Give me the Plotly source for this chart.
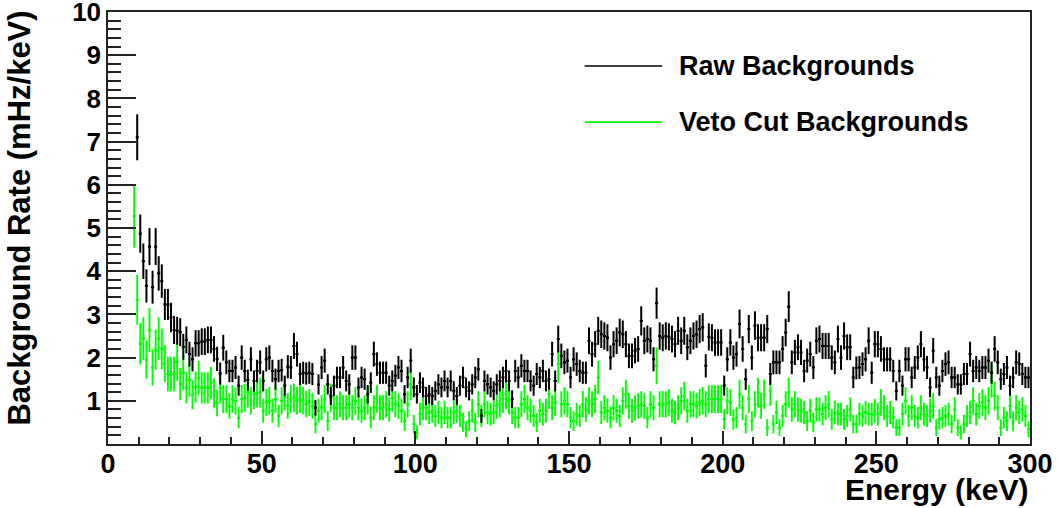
import plotly.graph_objects as go

# Energy binning (1 keV bins); first bin centre of each spectrum
bin_width = 1.0
raw_first_center = 9.5
veto_first_center = 8.5

# Raw background rate per bin (mHz/keV), 9.5 .. 299.5 keV
raw_rate = [
    7.10, 4.87, 4.23, 3.66, 4.57, 3.63, 4.57, 3.95, 3.77, 3.23,
    3.23, 2.93, 2.64, 2.62, 2.59, 2.25, 2.41, 2.08, 1.96, 2.33,
    2.33, 2.37, 2.37, 2.41, 2.41, 2.20, 1.97, 1.63, 2.23,
    1.89, 1.69, 1.69, 1.77, 1.35, 2.00, 1.69, 1.48, 1.96, 1.46,
    1.69, 1.89, 1.46, 1.96, 2.00, 1.69, 1.50, 1.69, 1.71, 1.35,
    1.79, 1.77, 2.27, 2.08, 1.62, 1.65, 1.63, 1.65, 1.62, 0.84,
    1.38, 1.77, 1.93, 1.38, 1.11, 1.35, 1.54, 1.54, 1.77, 1.46,
    1.38, 2.00, 2.00, 1.31, 1.54, 1.50, 1.15, 1.42, 2.08, 1.85,
    1.65,
    1.65, 1.65, 1.35, 1.46, 1.58, 1.77, 1.69, 1.15, 1.54, 1.93,
    1.31, 1.15, 1.42, 1.31, 1.11, 1.15, 1.11, 1.23, 1.38, 1.31,
    1.46, 1.31, 1.46, 1.23, 1.11, 1.35, 1.54, 1.31, 1.23, 1.38,
    1.54, 1.73, 0.65, 1.46, 1.38, 1.31, 1.23, 1.38, 1.46, 1.54,
    1.69, 1.46, 1.04, 1.69, 1.54, 1.81, 1.69, 1.69, 1.46, 1.35,
    1.62, 1.54, 1.69, 1.46, 1.50, 2.08, 1.46, 2.43, 2.04, 1.89,
    1.93, 1.54, 1.96, 1.85, 1.69, 1.65, 1.65, 2.39, 2.08, 2.31,
    2.62, 2.54, 2.50, 2.46, 2.00, 2.31, 2.39, 2.58, 2.54, 2.31,
    2.04, 2.04, 2.16, 2.20, 2.85, 2.39, 2.43, 2.39, 1.96, 3.26,
    2.50, 2.46, 2.50, 2.48, 2.43, 2.31, 2.62, 2.39, 2.62, 2.24,
    2.39, 2.50, 2.54, 2.66,
    2.70, 1.81, 2.48, 2.46, 2.35, 2.35, 2.35, 1.35, 1.96, 2.35,
    2.00, 2.08, 2.78, 2.20, 1.50, 2.66, 2.00, 2.74, 2.46, 2.46,
    2.46, 2.66, 1.62, 1.89, 1.89, 1.89, 2.20, 2.58, 3.18, 1.89,
    2.12, 2.24, 2.12, 1.69, 1.93, 2.08, 1.77, 2.39, 2.43, 2.27,
    2.27, 2.27, 2.00, 1.89, 2.43, 2.00, 2.50, 2.24, 2.24, 1.54,
    1.76, 1.77, 1.85, 1.96, 2.39, 1.65, 2.31, 2.31, 2.20, 1.96,
    1.96, 1.96, 1.69, 1.23, 1.69, 1.35, 1.96, 1.96, 1.54, 1.77,
    2.00, 2.31, 1.96, 1.77, 1.31, 2.16, 1.54, 1.35, 1.69, 1.85,
    1.89, 1.54, 1.54, 1.38, 1.38, 1.62, 1.62, 2.08, 1.69, 1.77,
    1.69, 1.77, 1.77, 1.93, 1.65, 2.20, 1.89, 1.50, 1.62, 1.77,
    1.35, 1.54, 1.89, 1.85, 1.62, 1.54, 1.54,
]

# Background rate after the veto cut (mHz/keV), 8.5 .. 299.5 keV
veto_rate = [
    5.27, 3.34, 2.32, 2.44, 1.95, 2.64, 1.77, 2.18, 2.44, 2.20,
    1.86, 1.62, 1.62, 1.62, 1.90, 1.39, 1.65, 1.30, 1.48, 1.14,
    1.32, 1.53, 1.30, 1.30, 1.30, 1.41, 1.18, 0.95, 1.30, 1.04,
    1.04, 0.88, 1.04, 1.00, 0.61, 1.04, 1.07, 1.19, 1.00, 1.15,
    1.19, 1.19, 0.77, 0.96, 1.00, 0.77, 1.04, 0.65, 1.00, 1.11,
    0.88, 1.04, 1.07, 1.00, 1.04, 1.00, 0.92, 0.96, 0.88, 0.46,
    0.77, 0.84, 1.04, 0.53, 1.07, 0.84, 0.84, 0.92, 0.84, 0.84,
    0.92, 0.84, 1.00, 0.84, 0.77, 0.84, 1.00, 0.61, 0.84, 1.04,
    0.84,
    0.84, 0.92, 0.80, 1.07, 0.92, 0.88, 0.77, 0.53, 0.92, 1.38,
    0.46, 0.27, 0.69, 0.84, 0.84, 0.73, 0.77, 0.65, 0.73, 0.61,
    0.73, 0.61, 0.61, 0.73, 0.77, 0.65, 0.50, 0.34, 0.53, 0.77,
    0.50, 0.92, 0.65, 0.92, 0.73, 0.69, 0.73, 0.88, 0.92, 1.04,
    1.15, 1.00, 0.73, 0.61, 0.61, 0.92, 1.04, 0.84, 0.77, 0.65,
    0.50, 0.77, 0.69, 0.77, 1.15, 0.84, 0.96, 1.85, 0.92, 1.00,
    0.92, 0.61, 0.53, 0.69, 0.65, 0.92, 0.80, 1.00, 0.92, 1.04,
    1.54, 0.73, 0.84, 0.77, 0.61, 0.84, 0.77, 0.65, 1.00, 1.15,
    0.88, 0.77, 0.84, 0.88, 0.92, 0.88, 0.61, 0.92, 0.84, 1.81,
    0.92, 0.92, 0.92, 0.96, 0.77, 0.73, 0.84, 1.00, 1.11, 0.77,
    0.92, 0.92, 0.88, 0.96,
    1.00, 0.92, 1.04, 1.04, 1.04, 1.04, 1.04, 0.57, 1.00, 0.96,
    0.57, 0.61, 1.15, 0.84, 0.46, 1.04, 0.53, 0.92, 1.19, 0.88,
    1.15, 0.38, 1.23, 0.46, 0.73, 0.38, 0.65, 0.92, 1.19, 0.80,
    0.92, 0.80, 0.77, 0.73, 0.53, 0.77, 0.50, 0.80, 0.80, 0.69,
    0.84, 0.92, 0.57, 0.73, 0.69, 0.69, 0.57, 0.65, 0.80, 0.46,
    0.46, 0.69, 0.65, 0.73, 0.69, 0.69, 0.77, 0.69, 0.96, 0.84,
    0.65, 0.73, 0.61, 0.38, 0.38, 0.69, 1.00, 0.65, 0.84, 0.65,
    0.61, 0.84, 0.69, 0.65, 0.77, 0.88, 0.38, 0.57, 0.61, 0.65,
    0.69, 0.46, 0.80, 0.38, 0.27, 0.46, 0.65, 0.73, 1.00, 0.69,
    0.88, 0.96, 0.84, 1.00, 1.46, 1.11, 0.84, 0.38, 0.61, 0.53,
    0.88, 0.53, 0.84, 0.73, 0.80, 0.65, 0.34,
]

# Effective exposure used for the Poisson uncertainty of each bin
raw_exposure = 25.0
veto_exposure = 10.0

series_names = ["Raw Backgrounds", "Veto Cut Backgrounds"]
series_colors = ["#000000", "#00ff00"]

x_ticks = [0, 50, 100, 150, 200, 250, 300]
y_ticks = [1, 2, 3, 4, 5, 6, 7, 8, 9, 10]

FONT = "Liberation Sans, Arial, Helvetica, sans-serif"
AXIS_COLOR = "#222222"


def centers(first, n):
    return [first + i * bin_width for i in range(n)]


def hist_trace(first, rates, exposure, color, thick):
    errs = [(r / exposure) ** 0.5 for r in rates]
    return go.Scatter(
        x=centers(first, len(rates)),
        y=rates,
        mode="markers",
        marker=dict(size=2, color=color, symbol="square"),
        error_y=dict(type="data", array=errs, width=0, thickness=thick, color=color),
        error_x=dict(type="constant", value=bin_width / 2, width=0,
                     thickness=thick, color=color),
        hoverinfo="x+y",
        showlegend=False,
    )


fig = go.Figure()
fig.add_trace(hist_trace(veto_first_center, veto_rate, veto_exposure, series_colors[1], 1.9))
fig.add_trace(hist_trace(raw_first_center, raw_rate, raw_exposure, series_colors[0], 2.0))

fig.update_layout(
    width=1060,
    height=508,
    margin=dict(l=108, r=30, t=12, b=64, autoexpand=False),
    paper_bgcolor="white",
    plot_bgcolor="white",
    showlegend=False,
    font=dict(family=FONT, color="black"),
)

fig.update_xaxes(
    range=[0, 300],
    tickvals=x_ticks,
    ticktext=[str(v) for v in x_ticks],
    ticks="inside",
    ticklen=13,
    tickwidth=1.5,
    tickcolor=AXIS_COLOR,
    minor=dict(ticks="inside", ticklen=7, dtick=10, tick0=0,
               tickwidth=1.5, tickcolor=AXIS_COLOR, showgrid=False),
    showline=True,
    linecolor=AXIS_COLOR,
    linewidth=1.5,
    mirror=True,
    showgrid=False,
    zeroline=False,
    automargin=False,
    ticklabeloverflow="allow",
    ticklabelstandoff=-5,
    tickfont=dict(family=FONT, size=27, color="black", weight="bold"),
)

fig.update_yaxes(
    range=[0, 10],
    tickvals=y_ticks,
    ticktext=[str(v) for v in y_ticks],
    ticks="inside",
    ticklen=28,
    tickwidth=1.5,
    tickcolor=AXIS_COLOR,
    minor=dict(ticks="inside", ticklen=13, dtick=0.2, tick0=0,
               tickwidth=1.5, tickcolor=AXIS_COLOR, showgrid=False),
    showline=True,
    linecolor=AXIS_COLOR,
    linewidth=1.5,
    mirror=True,
    showgrid=False,
    zeroline=False,
    automargin=False,
    ticklabeloverflow="allow",
    tickfont=dict(family=FONT, size=26, color="black", weight="bold"),
)

# Axis titles (ROOT style: aligned to the far end of each axis)
fig.add_annotation(
    text="Energy (keV)", xref="paper", yref="paper", x=1.0, y=-0.106,
    xanchor="right", yanchor="middle", showarrow=False,
    font=dict(family=FONT, size=30, color="black", weight="bold"),
)
fig.add_annotation(
    text="Background Rate (mHz/keV)", xref="paper", yref="paper",
    x=-0.0965, y=0.522, xanchor="center", yanchor="middle", textangle=-90,
    showarrow=False,
    font=dict(family=FONT, size=31, color="black", weight="bold"),
)

# Legend: line sample + label for each spectrum
legend_rows = [0.875, 0.745]
for name, color, yrow in zip(series_names, series_colors, legend_rows):
    fig.add_shape(type="line", xref="paper", yref="paper",
                  x0=0.517, x1=0.601, y0=yrow, y1=yrow,
                  line=dict(color=color, width=1.6))
    fig.add_annotation(
        text=name, xref="paper", yref="paper", x=0.617, y=yrow,
        xanchor="left", yanchor="middle", showarrow=False,
        font=dict(family=FONT, size=27, color="black", weight="bold"),
    )

fig.write_html("out.html")
